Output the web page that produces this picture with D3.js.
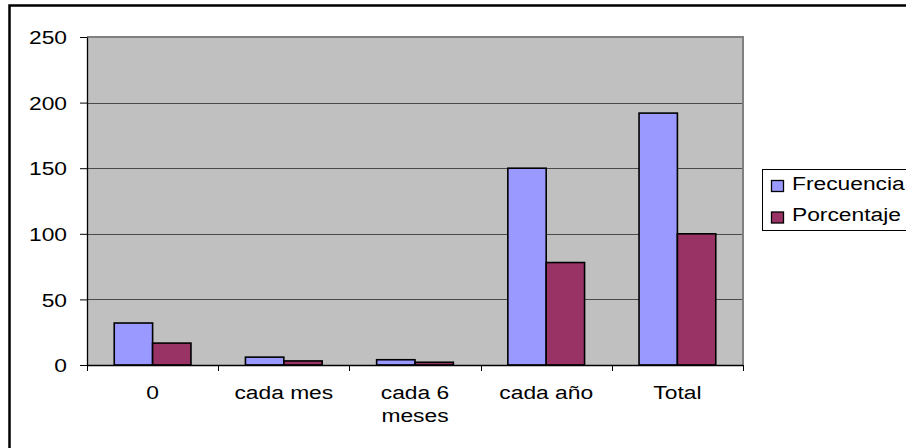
<!DOCTYPE html>
<html>
<head>
<meta charset="utf-8">
<script src="https://cdn.jsdelivr.net/npm/d3@7"></script>
<style>
  body { margin: 0; background: #fff; }
  svg { display: block; }
  text { font-family: "Liberation Sans", Arial, sans-serif; fill: #000; }
</style>
</head>
<body>
<svg id="chart" width="906" height="448"></svg>
<script>
// Data
const categories = ["0", "cada mes", "cada 6 meses", "cada año", "Total"];
const seriesNames = ["Frecuencia", "Porcentaje"];
const frecuencia = [32, 6, 4, 150, 192];
const porcentaje = [16.7, 3.1, 2.1, 78.1, 100];
const yTicks = [0, 50, 100, 150, 200, 250];
const seriesColors = ["#9999FF", "#993366"];

// Layout
const W = 906, H = 448;
const plot = { left: 87, top: 37, right: 743, bottom: 365 };
const FONT = 19;     // font size in px
const SX = 1.2;      // horizontal text stretch

const svg = d3.select("#chart");

// Outer chart frame
svg.append("rect")
  .attr("x", 9.5).attr("y", 5.5)
  .attr("width", 1000).attr("height", 1000)
  .attr("fill", "#fff").attr("stroke", "#000").attr("stroke-width", 2.5);

// Scales
const x0 = d3.scaleBand().domain(categories).range([plot.left, plot.right]).paddingInner(0).paddingOuter(0);
const x1 = d3.scaleBand().domain(seriesNames).range([0, x0.bandwidth()]).paddingInner(0).paddingOuter(0.71);
const y = d3.scaleLinear().domain([0, 250]).range([plot.bottom, plot.top]);

// Plot area background
svg.append("rect")
  .attr("x", plot.left).attr("y", plot.top)
  .attr("width", plot.right - plot.left).attr("height", plot.bottom - plot.top)
  .attr("fill", "#C0C0C0");

// Horizontal gridlines
svg.append("g").selectAll("line")
  .data(yTicks.filter(v => v > 0 && v < 250))
  .join("line")
  .attr("x1", plot.left).attr("x2", plot.right)
  .attr("y1", d => Math.round(y(d)) + 0.5).attr("y2", d => Math.round(y(d)) + 0.5)
  .attr("stroke", "#4a4a4a").attr("stroke-width", 1);

// Plot area border (top and right)
svg.append("path")
  .attr("d", `M${plot.left},${plot.top} H${plot.right} V${plot.bottom}`)
  .attr("fill", "none").attr("stroke", "#808080").attr("stroke-width", 2);

// Bars
const rows = categories.map((c, i) => ({ cat: c, values: [frecuencia[i], porcentaje[i]] }));
const groups = svg.append("g").selectAll("g")
  .data(rows)
  .join("g")
  .attr("transform", d => `translate(${x0(d.cat)},0)`);

groups.selectAll("rect")
  .data(d => d.values.map((v, j) => ({ key: seriesNames[j], value: v, color: seriesColors[j] })))
  .join("rect")
  .attr("x", d => x1(d.key))
  .attr("y", d => y(d.value))
  .attr("width", x1.bandwidth())
  .attr("height", d => y(0) - y(d.value))
  .attr("fill", d => d.color)
  .attr("stroke", "#000").attr("stroke-width", 1.6);

// Y axis
const yAxis = svg.append("g")
  .attr("transform", `translate(${plot.left},0)`)
  .call(d3.axisLeft(y).tickValues(yTicks).tickSize(7).tickSizeOuter(0).tickPadding(0));
yAxis.select(".domain").attr("stroke", "#000").attr("stroke-width", 1.3);
yAxis.selectAll(".tick line").attr("stroke", "#000");
yAxis.selectAll(".tick text")
  .attr("font-size", FONT)
  .attr("font-family", null)
  .attr("x", null).attr("dy", "0.35em")
  .attr("text-anchor", "end")
  .attr("transform", `translate(-20,0) scale(${SX},1)`);

// X axis line and boundary ticks
const xg = svg.append("g");
xg.append("line")
  .attr("x1", plot.left).attr("x2", plot.right)
  .attr("y1", plot.bottom + 0.5).attr("y2", plot.bottom + 0.5)
  .attr("stroke", "#000").attr("stroke-width", 1.5);
const boundaries = categories.map(c => x0(c)).concat([x0.range()[1]]);
xg.selectAll("line.tk")
  .data(boundaries)
  .join("line").attr("class", "tk")
  .attr("x1", d => Math.round(d) + 0.5).attr("x2", d => Math.round(d) + 0.5)
  .attr("y1", plot.bottom).attr("y2", plot.bottom + 6)
  .attr("stroke", "#000");

// X labels with word wrapping
const maxLabelWidth = 118;
const lineStep = 23;
categories.forEach(c => {
  const cx = x0(c) + x0.bandwidth() / 2;
  const t = xg.append("text")
    .attr("font-size", FONT)
    .attr("text-anchor", "middle")
    .attr("transform", `translate(${cx},399) scale(${SX},1)`);
  const words = c.split(" ");
  let line = [];
  let lineNo = 0;
  let tspan = t.append("tspan").attr("x", 0).attr("y", 0);
  words.forEach(w => {
    line.push(w);
    tspan.text(line.join(" "));
    if (tspan.node().getComputedTextLength() * SX > maxLabelWidth && line.length > 1) {
      line.pop();
      tspan.text(line.join(" "));
      line = [w];
      lineNo += 1;
      tspan = t.append("tspan").attr("x", 0).attr("y", lineNo * lineStep).text(w);
    }
  });
});

// Legend
const legend = svg.append("g");
legend.append("rect")
  .attr("x", 762.5).attr("y", 169.5)
  .attr("width", 200).attr("height", 61)
  .attr("fill", "#fff").attr("stroke", "#000").attr("stroke-width", 1);
const items = legend.selectAll("g.item")
  .data(seriesNames)
  .join("g").attr("class", "item")
  .attr("transform", (d, i) => `translate(0,${i * 31.5})`);
items.append("rect")
  .attr("x", 771.5).attr("y", 180.5)
  .attr("width", 12).attr("height", 11)
  .attr("fill", (d, i) => seriesColors[i])
  .attr("stroke", "#000").attr("stroke-width", 1.3);
items.append("text")
  .attr("font-size", FONT)
  .attr("transform", `translate(792,189.5) scale(${SX},1)`)
  .text(d => d);
</script>
</body>
</html>
